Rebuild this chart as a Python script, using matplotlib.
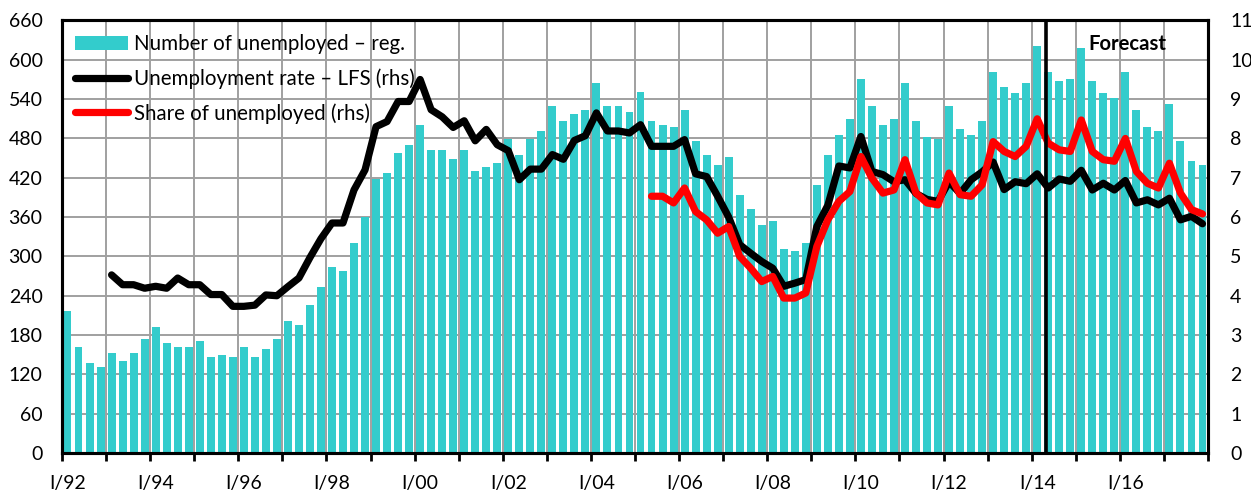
import matplotlib
matplotlib.use("Agg")
import matplotlib.pyplot as plt
import numpy as np
from matplotlib.lines import Line2D
from matplotlib.patches import Patch

plt.rcParams['font.family'] = ['Lato', 'DejaVu Sans']

# ---------------- data ----------------
years = list(range(1992, 2018))
roman = ["I", "II", "III", "IV"]
quarters = [f"{r}/{y % 100:02d}" for y in years for r in roman]

# Number of unemployed - registered (thousands, left axis), I/92 .. IV/17
unemployed_reg = [
    217, 162, 137, 131,
    153, 140, 153, 174,
    192, 168, 162, 162,
    171, 146, 150, 146,
    162, 146, 159, 174,
    201, 195, 226, 253,
    284, 278, 320, 360,
    418, 427, 458, 470,
    500, 463, 463, 449,
    463, 430, 436, 442,
    479, 455, 479, 491,
    530, 506, 518, 524,
    564, 530, 530, 521,
    551, 506, 500, 497,
    524, 476, 455, 439,
    451, 394, 372, 348,
    354, 311, 309, 321,
    409, 455, 485, 509,
    570, 530, 500, 509,
    564, 506, 482, 479,
    530, 494, 485, 506,
    582, 558, 549, 564,
    621, 582, 567, 570,
    618, 567, 549, 542,
    582, 524, 497, 491,
    533, 476, 445, 439,
]

# Unemployment rate - LFS (%, right axis), I/93 .. IV/17
lfs_start = "I/93"
lfs_rate = [
    4.53, 4.28, 4.28, 4.19,
    4.24, 4.19, 4.45, 4.28,
    4.28, 4.03, 4.03, 3.73,
    3.73, 3.76, 4.02, 4.00,
    4.23, 4.45, 4.97, 5.45,
    5.85, 5.85, 6.69, 7.20,
    8.30, 8.43, 8.94, 8.94,
    9.50, 8.73, 8.55, 8.28,
    8.45, 7.94, 8.23, 7.84,
    7.69, 6.95, 7.22, 7.22,
    7.59, 7.47, 7.95, 8.07,
    8.65, 8.19, 8.19, 8.14,
    8.35, 7.80, 7.80, 7.80,
    7.97, 7.10, 7.03, 6.53,
    6.00, 5.30, 5.08, 4.87,
    4.70, 4.24, 4.32, 4.41,
    5.76, 6.30, 7.30, 7.25,
    8.05, 7.16, 7.08, 6.90,
    6.95, 6.60, 6.45, 6.40,
    6.90, 6.60, 6.95, 7.15,
    7.40, 6.70, 6.90, 6.85,
    7.10, 6.74, 6.97, 6.91,
    7.19, 6.69, 6.86, 6.69,
    6.93, 6.36, 6.44, 6.31,
    6.48, 5.93, 6.02, 5.83,
]

# Share of unemployed (%, right axis), II/05 .. IV/17
share_start = "II/05"
share_unemployed = [
    6.53, 6.53, 6.36,
    6.74, 6.14, 5.93, 5.59,
    5.76, 5.00, 4.70, 4.36,
    4.49, 3.94, 3.94, 4.07,
    5.25, 5.93, 6.40, 6.65,
    7.54, 6.99, 6.61, 6.69,
    7.46, 6.61, 6.36, 6.31,
    7.12, 6.57, 6.53, 6.82,
    7.92, 7.67, 7.54, 7.80,
    8.50, 7.88, 7.71, 7.67,
    8.47, 7.67, 7.46, 7.42,
    8.00, 7.16, 6.86, 6.74,
    7.37, 6.61, 6.19, 6.08,
]

forecast_start = "II/14"
label_years = [f"I/{y % 100:02d}" for y in years[::2]]

labels = ["Number of unemployed \u2013 reg.",
          "Unemployment rate \u2013 LFS (rhs)",
          "Share of unemployed (rhs)"]

# ---------------- plot ----------------
W, H = 1251, 491
fig = plt.figure(figsize=(W / 100, H / 100), dpi=100)
L, R, T, B = 62, 1208, 20.5, 453
ax = fig.add_axes([L / W, (H - B) / H, (R - L) / W, (B - T) / H])

x = np.arange(len(quarters))
bar_color = "#33CCCC"
ax.bar(x, unemployed_reg, width=0.72, color=bar_color, zorder=2)

ax.set_xlim(-0.5, len(quarters) - 0.5)
ax.set_ylim(0, 660)
ax.set_yticks(np.arange(0, 661, 60))
ax.set_axisbelow(True)

# year boundaries as major ticks + vertical grid
boundaries = np.arange(-0.5, len(quarters), 4)
ax.set_xticks(boundaries)
ax.set_xticklabels([])
ax.set_xticks([quarters.index(lbl) for lbl in label_years], minor=True)
ax.set_xticklabels(label_years, minor=True)
ax.tick_params(axis='x', which='major', length=6, width=2, direction='out')
ax.tick_params(axis='x', which='minor', length=0, pad=16, labelsize=14)
ax.tick_params(axis='y', length=0, pad=14, labelsize=14)

grid_color = "#A0A0A0"
ax.grid(True, which='major', axis='both', color=grid_color, linewidth=1.4)

for s in ax.spines.values():
    s.set_linewidth(2.2)
    s.set_color("black")

ax2 = ax.twinx()
ax2.set_ylim(0, 11)
ax2.set_yticks(np.arange(0, 12, 1))
ax2.tick_params(axis='y', length=0, pad=16, labelsize=14)
for s in ax2.spines.values():
    s.set_linewidth(2.2)

i0 = quarters.index(lfs_start)
ax2.plot(x[i0:i0 + len(lfs_rate)], lfs_rate, color="black", lw=5.2,
         solid_capstyle='round', solid_joinstyle='round', zorder=3)
i1 = quarters.index(share_start)
ax2.plot(x[i1:i1 + len(share_unemployed)], share_unemployed, color="#FF0000", lw=5.2,
         solid_capstyle='round', solid_joinstyle='round', zorder=4)

fx = quarters.index(forecast_start) - 0.2
ax2.axvline(fx, color="black", lw=2.6, zorder=5)
ax2.text(quarters.index("I/16") + 0.2, 10.41, "Forecast", fontsize=14.6,
         fontweight='bold', ha='center', va='center', zorder=6)

handles = [Patch(facecolor=bar_color, edgecolor='none'),
           Line2D([], [], color="black", lw=5.2, solid_capstyle='round'),
           Line2D([], [], color="#FF0000", lw=5.2, solid_capstyle='round')]
leg = ax2.legend(handles, labels, loc='upper left',
                 bbox_to_anchor=(13 / (R - L), 1 - 14 / (B - T)),
                 frameon=False, fontsize=14.8, handlelength=2.6,
                 handletextpad=0.25, labelspacing=0.68, borderpad=0,
                 borderaxespad=0)
leg.set_zorder(10)

fig.savefig("out.png", dpi=100)
